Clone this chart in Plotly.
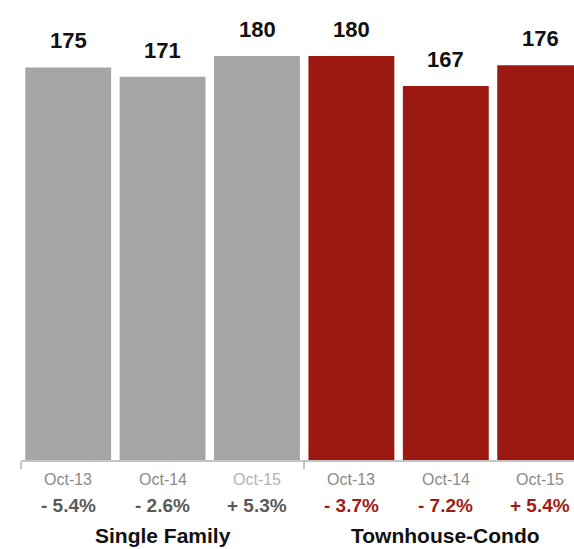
import plotly.graph_objects as go

categories = ["Oct-13", "Oct-14", "Oct-15", "Oct-13", "Oct-14", "Oct-15"]
groups = ["Single Family", "Townhouse-Condo"]
sf_values = [175, 171, 180]
tc_values = [180, 167, 176]
sf_changes = ["- 5.4%", "- 2.6%", "+ 5.3%"]
tc_changes = ["- 3.7%", "- 7.2%", "+ 5.4%"]

GRAY = "#a5a5a5"
RED = "#9c1911"
RED_TEXT = "#a01c14"
FONT = "Liberation Sans, Arial, Helvetica, sans-serif"

values = sf_values + tc_values
changes = sf_changes + tc_changes
colors = [GRAY] * len(sf_values) + [RED] * len(tc_values)
xs = list(range(len(values)))

fig = go.Figure()
fig.add_trace(go.Bar(x=xs, y=values, marker=dict(color=colors, line=dict(width=0)),
                     hoverinfo="skip", showlegend=False))

cat_colors = ["#8a8a8a", "#8a8a8a", "#b3b3b3", "#8a8a8a", "#8a8a8a", "#8a8a8a"]
chg_colors = ["#5a5a5a"] * 3 + [RED_TEXT] * 3

for i, (v, c, ch) in enumerate(zip(values, categories, changes)):
    fig.add_annotation(x=i, y=v, text=f"<b>{v}</b>", showarrow=False, yanchor="bottom",
                       yshift=12, font=dict(family=FONT, size=22, color="#111111"))
    fig.add_annotation(x=i, y=0, yref="paper", text=c, showarrow=False, yanchor="middle",
                       yshift=-19, font=dict(family=FONT, size=16, color=cat_colors[i]))
    fig.add_annotation(x=i, y=0, yref="paper", text=f"<b>{ch}</b>", showarrow=False,
                       yanchor="middle", yshift=-45, font=dict(family=FONT, size=19, color=chg_colors[i]))

for gi, g in enumerate(groups):
    fig.add_annotation(x=1 + 3 * gi, y=0, yref="paper", text=f"<b>{g}</b>", showarrow=False,
                       yanchor="middle", yshift=-75, font=dict(family=FONT, size=21, color="#111111"))

fig.update_layout(
    width=574, height=549,
    margin=dict(l=21, r=0, t=0, b=89),
    plot_bgcolor="white", paper_bgcolor="white",
    bargap=0.09,
    xaxis=dict(range=[-0.5, 5.358], showgrid=False, zeroline=False, showline=True,
               linecolor="#c4c4c4", linewidth=2, tickmode="array", tickvals=[-0.5, 2.5, 5.5],
               ticktext=["", "", ""], ticks="outside", ticklen=7, tickwidth=2, tickcolor="#c4c4c4",
               fixedrange=True),
    yaxis=dict(range=[5.1, 204.2], visible=False, fixedrange=True),
)

fig.write_html("out.html")
